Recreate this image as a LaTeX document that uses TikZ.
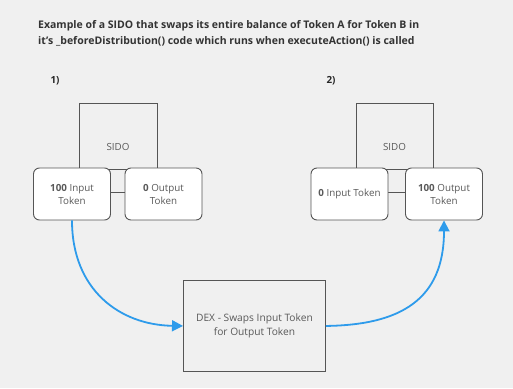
\documentclass[tikz,border=0pt]{standalone}
\usepackage{fontspec}
\setmainfont{Open Sans}
\usetikzlibrary{arrows.meta}
\definecolor{bg}{HTML}{F0F0F0}
\definecolor{edge}{HTML}{555555}
\definecolor{ink}{HTML}{595959}
\definecolor{flow}{HTML}{2E9BEB}
\begin{document}
\begin{tikzpicture}[x=1pt,y=-1pt,
  frame/.style={draw=edge,line width=0.9pt},
  boxfont/.style={font=\fontsize{9.8}{13}\selectfont},
  tokbox/.style={frame,fill=white,rounded corners=6pt,minimum width=77pt,minimum height=52pt,
    align=center,boxfont,text=ink,inner sep=0pt},
  plainbox/.style={frame,fill=bg,align=center,boxfont,text=ink,inner sep=0pt},
  flowline/.style={draw=flow,line width=1.8pt,-{Triangle[length=11pt,width=11pt]}}]
\fill[bg] (0,0) rectangle (513,388);
\useasboundingbox (0,0) rectangle (513,388);

% heading
\node[anchor=north west,align=left,font=\bfseries\fontsize{10.5}{16}\selectfont,text=black!80,inner sep=0pt]
  (title) at (38,20) {Example of a SIDO that swaps its entire balance of Token A for Token B in\\it's \_beforeDistribution() code which runs when executeAction() is called};

% step 1
\node[font=\bfseries\fontsize{9.8}{12}\selectfont,text=black!85] (n1) at (55,81) {1)};
\node[plainbox,minimum width=78pt,minimum height=66pt,anchor=north west] (sidoA) at (79,103) {};
\node[boxfont,text=ink] (sidoAlab) at (118,147) {SIDO};
\draw[frame] (111,192) -- (125,192);
\node[tokbox] (inA) at (72,194) {\textbf{100} Input\\Token};
\node[tokbox] (outA) at (163.5,194) {\textbf{0} Output\\Token};

% step 2
\node[font=\bfseries\fontsize{9.8}{12}\selectfont,text=black!85] (n2) at (331,81) {2)};
\node[plainbox,minimum width=77pt,minimum height=66pt,anchor=north west] (sidoB) at (356,103) {};
\node[boxfont,text=ink] (sidoBlab) at (394.5,147) {SIDO};
\draw[frame] (388,192) -- (405,192);
\node[tokbox] (inB) at (349.5,194) {\textbf{0} Input Token};
\node[tokbox] (outB) at (444,194) {\textbf{100} Output\\Token};

% exchange
\node[plainbox,minimum width=142pt,minimum height=91pt,anchor=north west,font=\fontsize{10.2}{14}\selectfont] (dex) at (183,280)
  {DEX - Swaps Input Token\\for Output Token};

% token flow
\draw[flowline] (inA.south) .. controls (72,290) and (120,325) .. (dex.west);
\draw[flowline] (dex.east) .. controls (400,325) and (444,300) .. (outB.south);
\end{tikzpicture}
\end{document}
